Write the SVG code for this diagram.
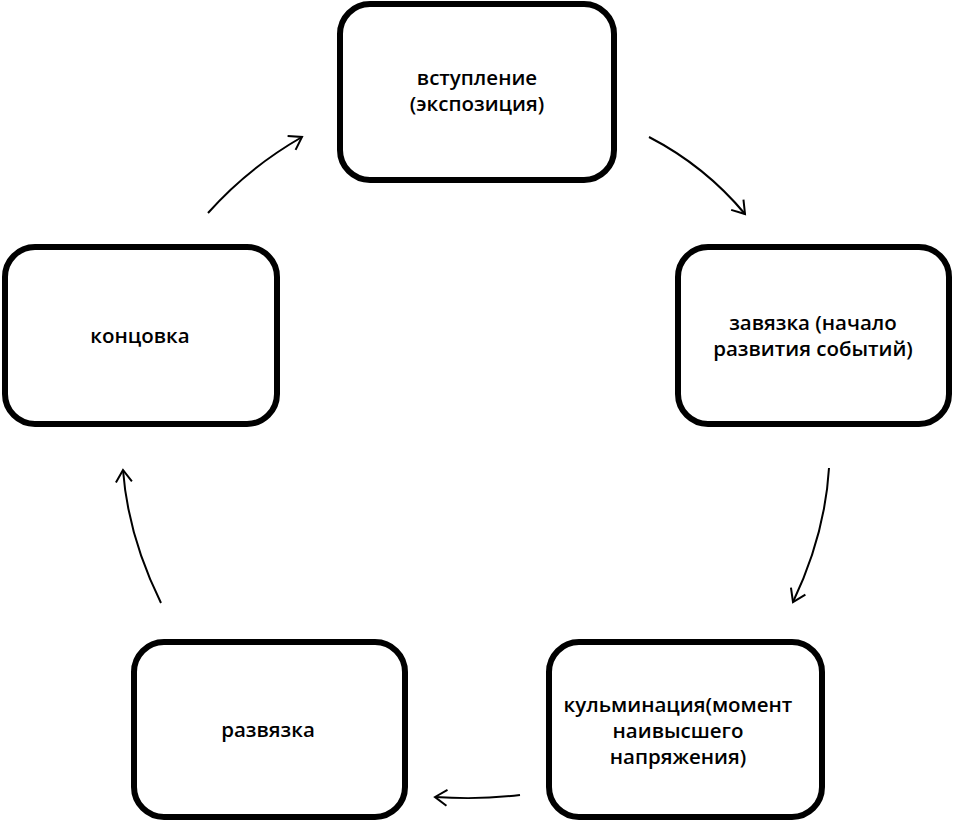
<svg xmlns="http://www.w3.org/2000/svg" width="953" height="822" viewBox="0 0 953 822">
<style>
.box{fill:#fff;stroke:#000;stroke-width:6}
.lbl{font-family:"Open Sans","Liberation Sans",sans-serif;font-weight:600;font-size:20.5px;fill:#000;text-anchor:middle}
.con{fill:none;stroke:#000;stroke-width:2;marker-end:url(#ah)}
</style>
<defs>
<marker id="ah" markerWidth="20" markerHeight="20" refX="0" refY="0" viewBox="-14 -10 16 20" orient="auto" markerUnits="userSpaceOnUse">
<path d="M-12,-8 L0,0 L-12,8" fill="none" stroke="#000" stroke-width="2"/>
</marker>
</defs>
<rect width="953" height="822" fill="#fff"/>
<g id="node-vstuplenie">
<rect class="box" x="340" y="4" width="274" height="176" rx="30"/>
<text class="lbl" x="477" y="85">вступление</text>
<text class="lbl" x="477" y="111">(экспозиция)</text>
</g>
<g id="node-zavyazka">
<rect class="box" x="678" y="247" width="271" height="177" rx="30"/>
<text class="lbl" x="813" y="330">завязка (начало</text>
<text class="lbl" x="813" y="356">развития событий)</text>
</g>
<g id="node-kulminatsiya">
<rect class="box" x="549" y="642" width="273" height="175" rx="30"/>
<text class="lbl" x="678" y="712">кульминация(момент</text>
<text class="lbl" x="678" y="738">наивысшего</text>
<text class="lbl" x="678" y="764">напряжения)</text>
</g>
<g id="node-razvyazka">
<rect class="box" x="134" y="642" width="271" height="175" rx="30"/>
<text class="lbl" x="268" y="737">развязка</text>
</g>
<g id="node-kontsovka">
<rect class="box" x="5" y="247" width="272" height="177" rx="30"/>
<text class="lbl" x="140" y="343">концовка</text>
</g>
<g id="connectors">
<path class="con" d="M649,137 Q705,166 745,214"/>
<path class="con" d="M829,468 Q825,535 793,602"/>
<path class="con" d="M520,795 Q480,800 435,797"/>
<path class="con" d="M161,603 Q128,536 123,470"/>
<path class="con" d="M208,213 Q248,168 302,137"/>
</g>
</svg>
